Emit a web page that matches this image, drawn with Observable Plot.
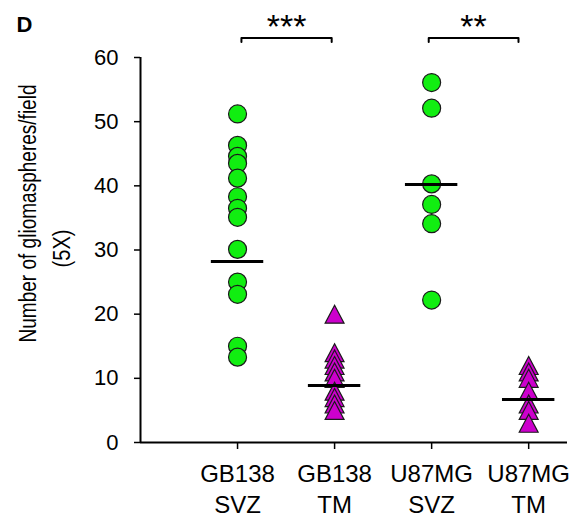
<!DOCTYPE html>
<html>
<head>
<meta charset="utf-8">
<script src="https://cdn.jsdelivr.net/npm/d3@7"></script>
<script src="https://cdn.jsdelivr.net/npm/@observablehq/plot@0.6"></script>
<style>
  html, body { margin: 0; padding: 0; background: #fff; }
  #chart svg { display: block; }
</style>
</head>
<body>
<div id="chart"></div>
<script>
// ---- data ----
const categories = ["GB138\nSVZ", "GB138\nTM", "U87MG\nSVZ", "U87MG\nTM"];
const gb138SVZ = [51.2, 46.3, 44.6, 43.5, 41.2, 38.3, 36.5, 35.1, 30.1, 25.0, 23.1, 15.0, 13.3];
const gb138TM  = [20, 14, 13, 12, 11, 10, 8, 7, 6, 5];
const u87mgSVZ = [56.1, 52.1, 40.3, 37.1, 34.1, 22.2];
const u87mgTM  = [12, 11, 10, 8, 6, 5, 3];
const lineValues = [28.2, 8.9, 40.2, 6.7];
const yTicks = [0, 10, 20, 30, 40, 50, 60];
const sigLabels = ["***", "**"];
const sigFrom = [1.04, 2.97];
const sigTo = [1.97, 3.895];
const sigLevel = 63.05;
const yTitle = ["Number of gliomaspheres/field", "(5X)"];
const panelLabel = "D";

// ---- build tables ----
const groups = [gb138SVZ, gb138TM, u87mgSVZ, u87mgTM];
const points = groups.flatMap((vals, i) =>
  vals.slice().sort((a, b) => b - a).map(v => ({pos: i + 1, value: v, kind: i % 2 === 0 ? "SVZ" : "TM"})));
const circles = points.filter(d => d.kind === "SVZ");
const triangles = points.filter(d => d.kind === "TM");
const lines = lineValues.map((v, i) => ({pos: i + 1, value: v}));
const brackets = sigLabels.flatMap((s, i) => [
  {id: i, x: sigFrom[i], y: sigLevel - 0.65},
  {id: i, x: sigFrom[i], y: sigLevel},
  {id: i, x: sigTo[i], y: sigLevel},
  {id: i, x: sigTo[i], y: sigLevel - 0.65}
]);
const stars = sigLabels.map((s, i) => ({label: s, x: (sigFrom[i] + sigTo[i]) / 2}));

// triangle symbol centred on its bounding box
const triangleBox = {
  draw(ctx, size) {
    const r = Math.sqrt(size / Math.PI);
    const w = 1.05 * r, h = r;
    ctx.moveTo(0, -h);
    ctx.lineTo(w, h);
    ctx.lineTo(-w, h);
    ctx.closePath();
  }
};

const font = "'Liberation Sans', Arial, sans-serif";
const halfW = 0.27;

const chart = Plot.plot({
  width: 581,
  height: 519,
  marginLeft: 140,
  marginTop: 57,
  marginBottom: 77,
  marginRight: 14,
  style: {fontFamily: font, background: "white", color: "black", overflow: "visible"},
  x: {type: "linear", domain: [0, 4.4]},
  y: {domain: [0, 60]},
  marks: [
    Plot.axisY({ticks: yTicks, tickSize: 6, tickPadding: 16, fontSize: 22, label: null, strokeWidth: 1.5}),
    Plot.axisX({ticks: [1, 2, 3, 4], tickFormat: t => categories[t - 1], tickSize: 7, tickPadding: 10,
                fontSize: 24, lineHeight: 1.3, label: null, strokeWidth: 1.5}),
    Plot.ruleX([0], {stroke: "black", strokeWidth: 2}),
    Plot.ruleY([0], {stroke: "black", strokeWidth: 2}),
    Plot.dot(circles, {x: "pos", y: "value", r: 9, symbol: "circle", fill: "#11ee11", stroke: "#1a1a1a", strokeWidth: 1.2}),
    Plot.dot(triangles, {x: "pos", y: "value", r: 9, symbol: triangleBox, fill: "#cc00cc", stroke: "#1a1a1a", strokeWidth: 1.2}),
    Plot.ruleY(lines, {y: "value", x1: d => d.pos - halfW, x2: d => d.pos + halfW, stroke: "black", strokeWidth: 3}),
    Plot.line(brackets, {x: "x", y: "y", z: "id", stroke: "black", strokeWidth: 2, curve: "linear"}),
    Plot.text(stars, {x: "x", y: sigLevel, text: "label", fontSize: 34, lineAnchor: "bottom", fill: "black"}),
    Plot.text([yTitle[0]], {text: d => d, frameAnchor: "left", rotate: -90, textAnchor: "start", dx: -112, dy: 92.5, fontSize: 23, fill: "black"}),
    Plot.text([yTitle[1]], {text: d => d, frameAnchor: "left", rotate: -90, textAnchor: "start", dx: -78, dy: 17.5, fontSize: 23, fill: "black"}),
    Plot.text([panelLabel], {text: d => d, frameAnchor: "top-left", dx: -124, dy: -26, textAnchor: "start", lineAnchor: "bottom", fontSize: 22, fontWeight: "bold", fill: "black"})
  ]
});

// condense the y title to the narrow face of the original
d3.select(chart).selectAll("text").each(function () {
  const t = this.textContent;
  if (t === yTitle[0]) d3.select(this).attr("textLength", 258).attr("lengthAdjust", "spacingAndGlyphs");
  if (t === yTitle[1]) d3.select(this).attr("textLength", 38).attr("lengthAdjust", "spacingAndGlyphs");
});

document.getElementById("chart").appendChild(chart);
</script>
</body>
</html>
